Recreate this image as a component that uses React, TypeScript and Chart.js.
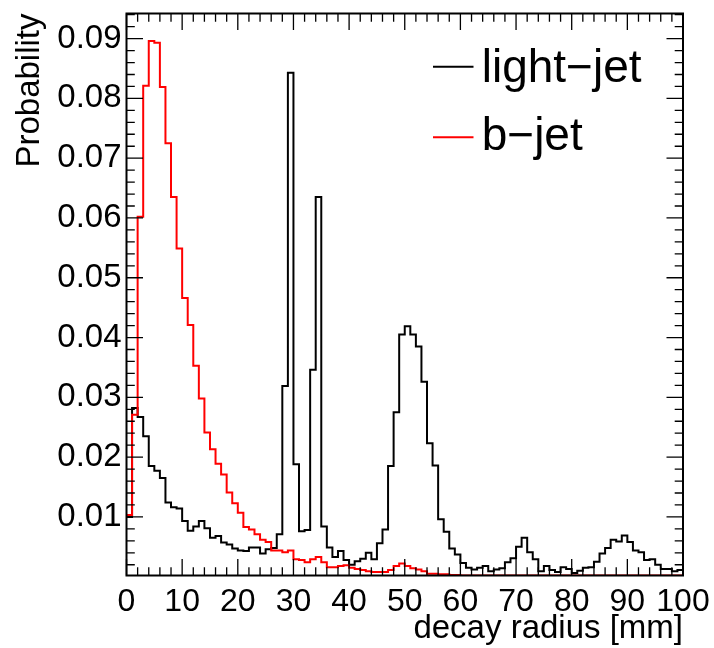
import React, { useEffect, useRef } from 'react';
import { Chart, registerables } from 'chart.js';

Chart.register(...registerables);

const FONT = '"Liberation Sans", Arial, Helvetica, sans-serif';

// Bin low edges (1 mm bins, 0-100 mm)
const binLowEdges: number[] = Array.from({ length: 100 }, (_, i) => i);
const xUpperEdge = 100;

const lightJet: number[] = [
  0.0100, 0.0282, 0.0267, 0.0235, 0.0185, 0.0177, 0.0165, 0.0124, 0.0116, 0.0114,
  0.0093, 0.0077, 0.0084, 0.0093, 0.0081, 0.0065, 0.0068, 0.0057, 0.0054, 0.0047,
  0.0044, 0.0043, 0.0049, 0.0049, 0.0039, 0.0046, 0.0048, 0.0071, 0.0319, 0.0843,
  0.0188, 0.0076, 0.0078, 0.0346, 0.0635, 0.0084, 0.0049, 0.0033, 0.0043, 0.0028,
  0.0020, 0.0026, 0.0030, 0.0040, 0.0029, 0.0056, 0.0079, 0.0185, 0.0275, 0.0405,
  0.0419, 0.0405, 0.0385, 0.0326, 0.0223, 0.0186, 0.0096, 0.0075, 0.0047, 0.0037,
  0.0023, 0.0015, 0.0012, 0.0015, 0.0018, 0.0009, 0.0012, 0.0014, 0.0024, 0.0031,
  0.0050, 0.0065, 0.0041, 0.0029, 0.0009, 0.0018, 0.0011, 0.0008, 0.0016, 0.0013,
  0.0006, 0.0010, 0.0015, 0.0016, 0.0025, 0.0039, 0.0048, 0.0062, 0.0059, 0.0069,
  0.0058, 0.0044, 0.0041, 0.0028, 0.0029, 0.0020, 0.0013, 0.0013, 0.0009, 0.0011,
];

const bJet: number[] = [
  0.0103, 0.0271, 0.0602, 0.0821, 0.0896, 0.0893, 0.0819, 0.0725, 0.0635, 0.0549,
  0.0466, 0.0421, 0.0353, 0.0298, 0.0241, 0.0213, 0.0189, 0.0171, 0.0141, 0.0123,
  0.0107, 0.0083, 0.0079, 0.0071, 0.0062, 0.0058, 0.0044, 0.0044, 0.0041, 0.0044,
  0.0029, 0.0028, 0.0024, 0.0029, 0.0033, 0.0024, 0.0016, 0.0016, 0.0018, 0.0019,
  0.0015, 0.0013, 0.0011, 0.0009, 0.0008, 0.0008, 0.0008, 0.0011, 0.0018, 0.0022,
  0.0018, 0.0014, 0.0012, 0.0009, 0.0005, 0.0005, 0.0004, 0.0004, 0.0003, 0.0003,
  0.0002, 0.0002, 0.0002, 0.0002, 0.0002, 0.0002, 0.0002, 0.0002, 0.0002, 0.0002,
  0.0002, 0.0002, 0.0002, 0.0002, 0.0002, 0.0002, 0.0002, 0.0002, 0.0002, 0.0002,
  0.0002, 0.0002, 0.0002, 0.0002, 0.0002, 0.0002, 0.0002, 0.0002, 0.0002, 0.0002,
  0.0002, 0.0002, 0.0002, 0.0002, 0.0002, 0.0002, 0.0002, 0.0002, 0.0002, 0.0002,
];

const xTickValues: number[] = [0, 10, 20, 30, 40, 50, 60, 70, 80, 90, 100];
const yTickValues: number[] = [0.01, 0.02, 0.03, 0.04, 0.05, 0.06, 0.07, 0.08, 0.09];
const xMinorStep = 2;
const yMinorStep = 0.002;
const X_MIN = 0;
const X_MAX = 100;
const Y_MIN = 0.0002;
const Y_MAX = 0.0942;

const xTitle = 'decay radius [mm]';
const yTitle = 'Probability';
const legendLabels: string[] = ['light\u2212jet', 'b\u2212jet'];
const legendColors: string[] = ['#000000', '#ff0000'];

function toHist(values: number[]) {
  const pts = binLowEdges.map((e, i) => ({ x: e, y: values[i] }));
  pts.push({ x: xUpperEdge, y: values[values.length - 1] });
  return pts;
}

const rootFramePlugin = {
  id: 'rootFrame',
  afterDatasetsDraw(chart: any) {
    const { ctx, chartArea: a, scales } = chart;
    const xs = scales.x;
    const ys = scales.y;
    const majorLen = 16.5;
    const minorLen = 8.3;
    ctx.save();
    ctx.strokeStyle = '#000';
    ctx.lineWidth = 1.3;
    ctx.beginPath();
    const nx = Math.round((X_MAX - X_MIN) / xMinorStep);
    for (let k = 0; k <= nx; k++) {
      const v = X_MIN + k * xMinorStep;
      const px = xs.getPixelForValue(v);
      const isMajor = xTickValues.some((t) => Math.abs(t - v) < 1e-9);
      const len = isMajor ? majorLen : minorLen;
      ctx.moveTo(px, a.bottom);
      ctx.lineTo(px, a.bottom - len);
      ctx.moveTo(px, a.top);
      ctx.lineTo(px, a.top + len);
    }
    const ny = Math.floor(Y_MAX / yMinorStep + 1e-9);
    for (let k = 1; k <= ny; k++) {
      const v = k * yMinorStep;
      if (v <= Y_MIN || v >= Y_MAX) continue;
      const py = ys.getPixelForValue(v);
      const isMajor = yTickValues.some((t) => Math.abs(t - v) < 1e-9);
      const len = isMajor ? majorLen : minorLen;
      ctx.moveTo(a.left, py);
      ctx.lineTo(a.left + len, py);
      ctx.moveTo(a.right, py);
      ctx.lineTo(a.right - len, py);
    }
    ctx.stroke();
    ctx.lineWidth = 2;
    ctx.strokeRect(a.left, a.top, a.right - a.left, a.bottom - a.top);
    ctx.restore();
  },
  afterDraw(chart: any) {
    const { ctx, chartArea: a } = chart;
    ctx.save();
    // y-axis title, rotated, right-aligned to the top of the frame
    ctx.font = `33px ${FONT}`;
    ctx.fillStyle = '#000';
    ctx.translate(30, a.top);
    ctx.rotate(-Math.PI / 2);
    ctx.textAlign = 'right';
    ctx.textBaseline = 'middle';
    ctx.fillText(yTitle, 0, 0);
    ctx.restore();

    ctx.save();
    ctx.font = `46px ${FONT}`;
    ctx.textAlign = 'left';
    ctx.textBaseline = 'alphabetic';
    const lineY = [a.top + 53.2, a.top + 123.8];
    const textY = [a.top + 68.5, a.top + 136.5];
    legendLabels.forEach((label, i) => {
      ctx.strokeStyle = legendColors[i];
      ctx.lineWidth = 2;
      ctx.beginPath();
      ctx.moveTo(a.left + 306.5, lineY[i]);
      ctx.lineTo(a.left + 347, lineY[i]);
      ctx.stroke();
      ctx.fillStyle = '#000';
      ctx.fillText(label, a.left + 355.2, textY[i]);
    });
    ctx.restore();
  },
};

export default function App() {
  const canvasRef = useRef<HTMLCanvasElement | null>(null);

  useEffect(() => {
    document.body.style.margin = '0';
    const canvas = canvasRef.current;
    if (!canvas) return;
    const chart = new Chart(canvas, {
      type: 'line',
      data: {
        datasets: [
          {
            label: legendLabels[1],
            data: toHist(bJet),
            borderColor: '#ff0000',
            borderWidth: 2,
            pointRadius: 0,
            fill: false,
            stepped: 'before',
            order: 0,
          },
          {
            label: legendLabels[0],
            data: toHist(lightJet),
            borderColor: '#000000',
            borderWidth: 2,
            pointRadius: 0,
            fill: false,
            stepped: 'before',
            order: 1,
          },
        ],
      },
      options: {
        animation: false,
        responsive: false,
        maintainAspectRatio: false,
        devicePixelRatio: 1,
        layout: { padding: { left: 0, top: 13.5, right: 31, bottom: 0 } },
        plugins: {
          legend: { display: false },
          tooltip: { enabled: false },
        },
        scales: {
          x: {
            type: 'linear',
            min: X_MIN,
            max: X_MAX,
            grid: { display: false, drawTicks: false },
            border: { display: false },
            afterBuildTicks: (s: any) => {
              s.ticks = xTickValues.map((v) => ({ value: v }));
            },
            afterFit: (s: any) => {
              s.height = 72.5;
              s.paddingLeft = 0;
              s.paddingRight = 0;
              s.paddingTop = 0;
              s.paddingBottom = 0;
            },
            ticks: {
              padding: 7,
              color: '#000',
              maxRotation: 0,
              autoSkip: false,
              font: { family: FONT, size: 32 },
              callback: (v: any) => String(v),
            },
            title: {
              display: true,
              text: xTitle,
              align: 'end',
              color: '#000',
              font: { family: FONT, size: 33 },
              padding: { top: 0, bottom: -1 },
            },
          },
          y: {
            type: 'linear',
            min: Y_MIN,
            max: Y_MAX,
            grid: { display: false, drawTicks: false },
            border: { display: false },
            afterBuildTicks: (s: any) => {
              s.ticks = yTickValues.map((v) => ({ value: v }));
            },
            afterFit: (s: any) => {
              s.width = 126.5;
              s.paddingLeft = 0;
              s.paddingRight = 0;
              s.paddingTop = 0;
              s.paddingBottom = 0;
            },
            ticks: {
              padding: 5,
              color: '#000',
              autoSkip: false,
              font: { family: FONT, size: 33 },
              callback: (v: any) => Number(v).toFixed(2),
            },
            title: { display: false },
          },
        },
      },
      plugins: [rootFramePlugin],
    });
    return () => {
      chart.destroy();
    };
  }, []);

  return (
    <div style={{ width: 714, height: 648, background: '#fff' }}>
      <canvas ref={canvasRef} width={714} height={648} style={{ display: 'block' }} />
    </div>
  );
}
